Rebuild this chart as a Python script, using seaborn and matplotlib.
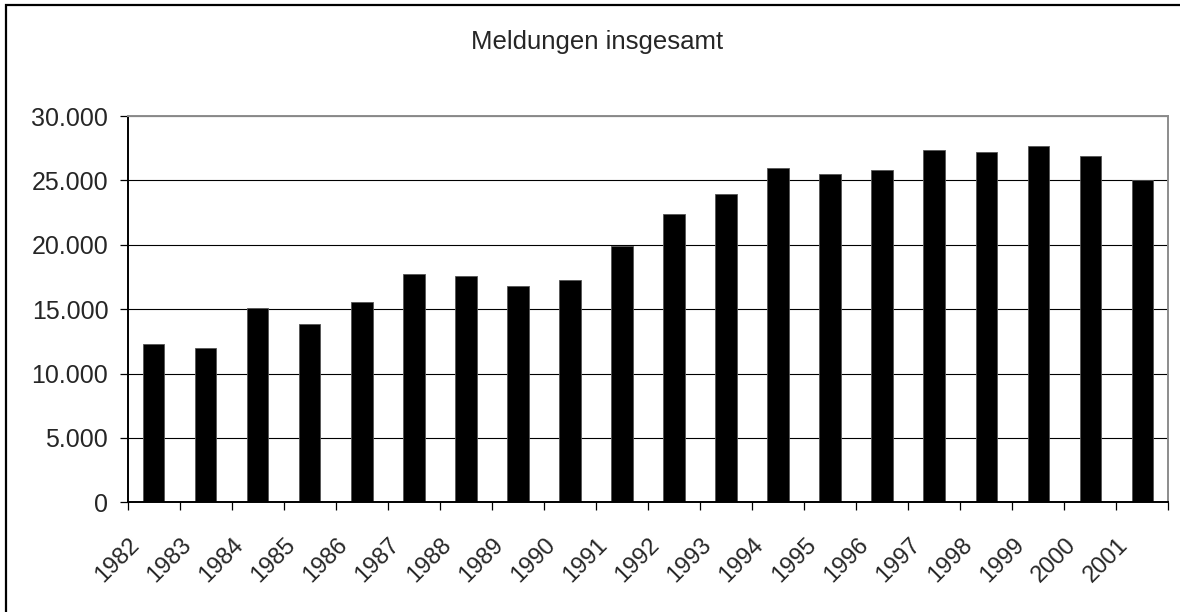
import numpy as np
import pandas as pd
import matplotlib
matplotlib.use("Agg")
import matplotlib.pyplot as plt
from matplotlib.ticker import FuncFormatter
from matplotlib.patches import Rectangle
from matplotlib.transforms import ScaledTranslation
import seaborn as sns

# Daten
jahre = [str(j) for j in range(1982, 2002)]
meldungen = [12300, 12000, 15100, 13850, 15550, 17750, 17600, 16800, 17250, 19900,
             22400, 23950, 25950, 25500, 25800, 27350, 27200, 27650, 26900, 25000]
y_ticks = [0, 5000, 10000, 15000, 20000, 25000, 30000]
titel = "Meldungen insgesamt"

sns.set_theme(style="white")
plt.rcParams['font.family'] = ['Liberation Sans', 'DejaVu Sans']

df = pd.DataFrame({"jahr": jahre, "meldungen": meldungen})

fig = plt.figure(figsize=(11.8, 6.12), dpi=100)
ax = fig.add_axes([127.7 / 1180, 1 - 502.3 / 612, (1168.3 - 127.7) / 1180, (502.3 - 116) / 612])

sns.barplot(data=df, x="jahr", y="meldungen", color="black", saturation=1,
            width=0.41, edgecolor="#555555", linewidth=0.6, ax=ax)

ax.set_xlabel("")
ax.set_ylabel("")

# Gitterlinien
ax.set_yticks(y_ticks)
ax.yaxis.set_major_formatter(FuncFormatter(lambda v, p: f"{int(v):,}".replace(",", ".")))
ax.grid(axis="y", color="black", linewidth=0.8)
ax.set_axisbelow(True)
ax.tick_params(axis="y", length=6, width=0.9, color="black", pad=8, labelsize=18, left=True)

# x-Achse: Striche zwischen den Kategorien, Beschriftungen schraeg
n = len(jahre)
ax.set_xticks(np.arange(n + 1) - 0.5)
ax.set_xticklabels(jahre + [""], rotation=45, ha="center", va="center", rotation_mode="default")
ax.tick_params(axis="x", length=6, width=0.9, color="black", pad=36, labelsize=17, bottom=True)
verschiebung = ScaledTranslation(-10 / 100, 0, fig.dpi_scale_trans)
for lbl in ax.get_xticklabels():
    lbl.set_transform(lbl.get_transform() + verschiebung)

ax.set_xlim(-0.5, n - 0.5)
ax.set_ylim(0, 30000)

for s in ["left", "bottom"]:
    ax.spines[s].set_color("black")
    ax.spines[s].set_linewidth(1.4)
for s in ["top", "right"]:
    ax.spines[s].set_color("#8c8c8c")
    ax.spines[s].set_linewidth(1.4)
ax.spines["top"].set_zorder(5)

fig.text(597 / 1180, 1 - 49 / 612, titel, ha="center", va="baseline", fontsize=18.5)

# Rahmen um das Diagramm
fig.add_artist(Rectangle((6 / 1180, -0.2), 1.2, 1.2 - 4.5 / 612,
                         transform=fig.transFigure, fill=False, edgecolor="black", linewidth=1.6))

fig.savefig("out.png", dpi=100)
